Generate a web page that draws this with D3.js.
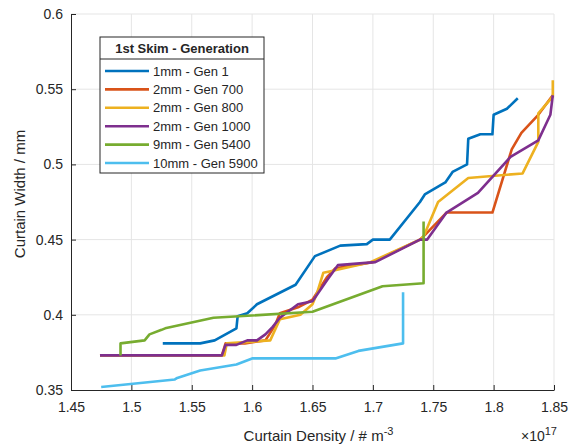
<!DOCTYPE html>
<head>
  <style>
    body { margin: 0; background: #fff; }
    svg text { font-family: "Liberation Sans", Arial, Helvetica, sans-serif; fill: #262626; }
    .grid line { stroke: #e5e5e5; stroke-width: 1; }
    .series { fill: none; stroke-width: 2.6; stroke-linejoin: round; }
  </style>
  <script src="https://d3js.org/d3.v7.min.js"></script>
  <title></title>
</head>
<body>
<div class="home"></div>
</body>
<script>
    // density in units of 1e17 m^-3, width in mm
    const seriesNames = ["1mm - Gen 1", "2mm - Gen 700", "2mm - Gen 800", "2mm - Gen 1000", "9mm - Gen 5400", "10mm - Gen 5900"];
    const seriesColors = ["#0072BD", "#D95319", "#EDB120", "#7E2F8E", "#77AC30", "#4DBEEE"];

    const gen1X = [1.526, 1.557, 1.569, 1.587, 1.588, 1.596, 1.604, 1.636, 1.652, 1.673, 1.695, 1.700, 1.714, 1.739, 1.743, 1.760, 1.766, 1.778, 1.779, 1.789, 1.799, 1.800, 1.811, 1.820];
    const gen1Y = [0.381, 0.381, 0.383, 0.391, 0.399, 0.401, 0.407, 0.420, 0.439, 0.446, 0.447, 0.450, 0.450, 0.475, 0.480, 0.488, 0.495, 0.500, 0.517, 0.520, 0.520, 0.533, 0.537, 0.544];

    const gen700X = [1.474, 1.575, 1.578, 1.594, 1.611, 1.619, 1.623, 1.638, 1.650, 1.662, 1.669, 1.700, 1.739, 1.743, 1.761, 1.799, 1.815, 1.823, 1.837, 1.849];
    const gen700Y = [0.373, 0.373, 0.381, 0.381, 0.383, 0.393, 0.401, 0.405, 0.410, 0.425, 0.431, 0.435, 0.450, 0.453, 0.468, 0.468, 0.510, 0.521, 0.533, 0.546];

    const gen800X = [1.474, 1.577, 1.579, 1.598, 1.615, 1.623, 1.640, 1.650, 1.654, 1.659, 1.665, 1.698, 1.739, 1.742, 1.754, 1.779, 1.824, 1.837, 1.837, 1.849, 1.849];
    const gen800Y = [0.373, 0.373, 0.381, 0.382, 0.383, 0.397, 0.400, 0.407, 0.415, 0.428, 0.429, 0.435, 0.450, 0.452, 0.475, 0.491, 0.494, 0.515, 0.534, 0.545, 0.556];

    const gen1000X = [1.474, 1.575, 1.578, 1.587, 1.596, 1.604, 1.611, 1.617, 1.623, 1.638, 1.650, 1.662, 1.671, 1.702, 1.739, 1.745, 1.761, 1.787, 1.814, 1.837, 1.847, 1.849];
    const gen1000Y = [0.373, 0.373, 0.380, 0.380, 0.383, 0.383, 0.387, 0.392, 0.398, 0.407, 0.409, 0.423, 0.433, 0.435, 0.450, 0.450, 0.468, 0.481, 0.505, 0.516, 0.533, 0.546];

    const gen5400X = [1.491, 1.491, 1.511, 1.515, 1.525, 1.528, 1.568, 1.650, 1.708, 1.742, 1.742];
    const gen5400Y = [0.373, 0.381, 0.383, 0.387, 0.390, 0.391, 0.398, 0.402, 0.419, 0.421, 0.462];

    const gen5900X = [1.475, 1.536, 1.538, 1.557, 1.587, 1.600, 1.669, 1.688, 1.725, 1.725];
    const gen5900Y = [0.352, 0.357, 0.358, 0.363, 0.367, 0.371, 0.371, 0.376, 0.381, 0.415];

    const xTicks = [1.45, 1.5, 1.55, 1.6, 1.65, 1.7, 1.75, 1.8, 1.85];
    const xTickLabels = ["1.45", "1.5", "1.55", "1.6", "1.65", "1.7", "1.75", "1.8", "1.85"];
    const yTicks = [0.35, 0.4, 0.45, 0.5, 0.55, 0.6];
    const yTickLabels = ["0.35", "0.4", "0.45", "0.5", "0.55", "0.6"];

    const seriesX = [gen1X, gen700X, gen800X, gen1000X, gen5400X, gen5900X];
    const seriesY = [gen1Y, gen700Y, gen800Y, gen1000Y, gen5400Y, gen5900Y];

    const width = 576;
    const height = 444;
    const margin = {top: 14, right: 22, bottom: 54, left: 71};

    const svg = d3.select(".home").append("svg")
        .attr("width", width)
        .attr("height", height);

    const x = d3.scaleLinear().domain([1.45, 1.85]).range([margin.left, width - margin.right]);
    const y = d3.scaleLinear().domain([0.35, 0.6]).range([height - margin.bottom, margin.top]);

    // grid
    const grid = svg.append("g").attr("class", "grid");
    grid.selectAll(".gx").data(xTicks.slice(1)).enter().append("line")
        .attr("x1", d => x(d)).attr("x2", d => x(d))
        .attr("y1", y(0.35)).attr("y2", y(0.6));
    grid.selectAll(".gy").data(yTicks.slice(1)).enter().append("line")
        .attr("y1", d => y(d)).attr("y2", d => y(d))
        .attr("x1", x(1.45)).attr("x2", x(1.85));

    // axes, ticks inside like matlab
    const xAxis = d3.axisBottom(x).tickValues(xTicks)
        .tickFormat((d, i) => xTickLabels[i]).tickSizeInner(-5).tickSizeOuter(0).tickPadding(12);
    const yAxis = d3.axisLeft(y).tickValues(yTicks)
        .tickFormat((d, i) => yTickLabels[i]).tickSizeInner(-5).tickSizeOuter(0).tickPadding(8);

    const gx = svg.append("g").attr("transform", `translate(0,${y(0.35)})`).call(xAxis);
    const gy = svg.append("g").attr("transform", `translate(${x(1.45)},0)`).call(yAxis);
    [gx, gy].forEach(g => {
        g.select(".domain").attr("stroke", "#262626").attr("stroke-width", 1);
        g.selectAll(".tick line").attr("stroke", "#262626");
        g.selectAll(".tick text").style("font-size", "14px").attr("fill", "#262626");
    });

    // lines
    const line = d3.line().x(d => x(d[0])).y(d => y(d[1]));
    seriesNames.forEach((name, i) => {
        const pts = seriesX[i].map((v, j) => [v, seriesY[i][j]]);
        svg.append("path")
            .datum(pts)
            .attr("class", "series")
            .attr("stroke", seriesColors[i])
            .attr("d", line);
    });

    // axis labels
    const xl = svg.append("text")
        .attr("x", (x(1.45) + x(1.85)) / 2 + 6)
        .attr("y", 441)
        .attr("text-anchor", "middle")
        .style("font-size", "15px");
    xl.append("tspan").text("Curtain Density / # m");
    xl.append("tspan").attr("dy", -6).style("font-size", "11px").text("-3");

    svg.append("text")
        .attr("transform", `translate(25,${(y(0.35) + y(0.6)) / 2 - 8}) rotate(-90)`)
        .attr("text-anchor", "middle")
        .style("font-size", "15px")
        .text("Curtain Width / mm");

    const ex = svg.append("text")
        .attr("x", 557)
        .attr("y", 441)
        .attr("text-anchor", "end")
        .style("font-size", "14px");
    ex.append("tspan").text("\u00d710");
    ex.append("tspan").attr("dy", -6).style("font-size", "11px").text("17");

    // legend
    const lg = svg.append("g").attr("transform", "translate(100,37)");
    lg.append("rect")
        .attr("width", 164).attr("height", 136)
        .attr("fill", "#fff").attr("stroke", "#262626").attr("stroke-width", 1);
    lg.append("line")
        .attr("x1", 0).attr("x2", 164).attr("y1", 22).attr("y2", 22)
        .attr("stroke", "#262626").attr("stroke-width", 1);
    lg.append("text")
        .attr("x", 82).attr("y", 16)
        .attr("text-anchor", "middle")
        .style("font-size", "13px").style("font-weight", "bold")
        .text("1st Skim - Generation");

    const items = lg.selectAll(".item").data(seriesNames).enter().append("g")
        .attr("transform", (d, i) => `translate(0,${34 + i * 18.4})`);
    items.append("line")
        .attr("x1", 5).attr("x2", 49)
        .attr("stroke", (d, i) => seriesColors[i])
        .attr("stroke-width", 2.6);
    items.append("text")
        .attr("x", 53).attr("dy", "0.35em")
        .style("font-size", "13px")
        .text(d => d);
</script>
